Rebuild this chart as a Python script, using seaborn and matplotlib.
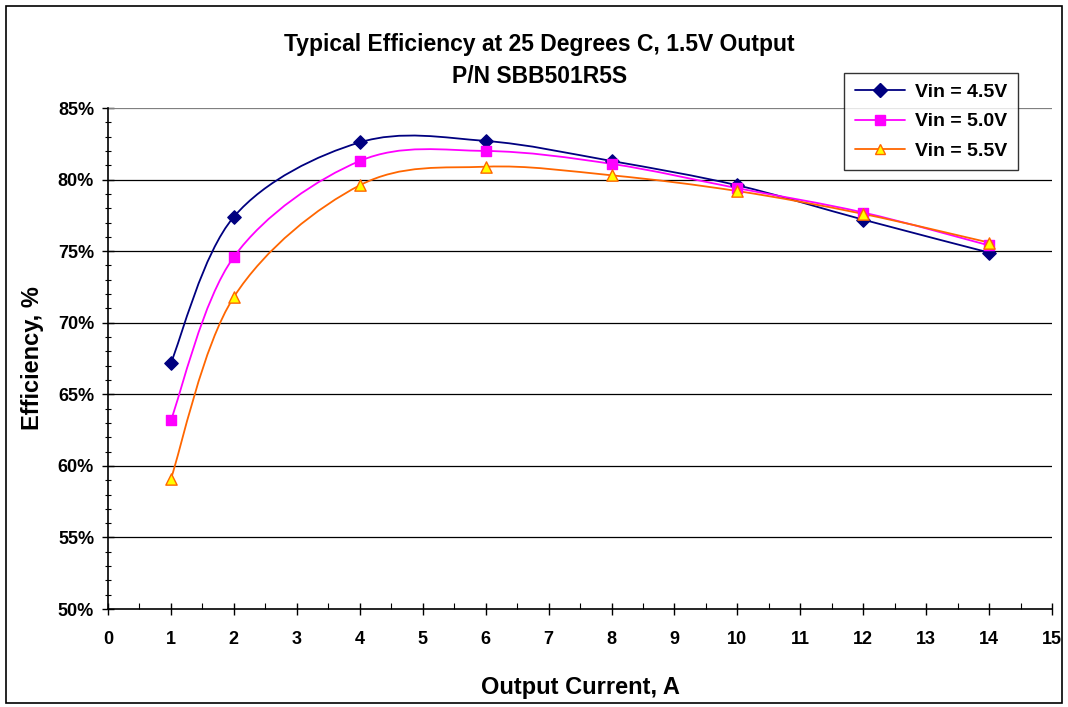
import numpy as np
import pandas as pd
import matplotlib
matplotlib.use('Agg')
import matplotlib.pyplot as plt
import seaborn as sns
from matplotlib.path import Path
from matplotlib.patches import PathPatch, Rectangle
from matplotlib.lines import Line2D
from matplotlib.ticker import MultipleLocator, FuncFormatter

# datos
corriente = [1, 2, 4, 6, 8, 10, 12, 14]
ef_45 = [67.2, 77.4, 82.6, 82.7, 81.3, 79.6, 77.2, 74.9]
ef_50 = [63.2, 74.6, 81.3, 82.0, 81.1, 79.4, 77.7, 75.4]
ef_55 = [59.1, 71.8, 79.6, 80.9, 80.3, 79.2, 77.6, 75.6]
series = ['Vin = 4.5V', 'Vin = 5.0V', 'Vin = 5.5V']

df = pd.DataFrame({
    'Corriente': corriente * 3,
    'Eficiencia': ef_45 + ef_50 + ef_55,
    'Serie': [s for s in series for _ in corriente],
})

estilos = {
    'Vin = 4.5V': dict(line='#000080', face='#000080', edge='#000080', marker='D', size=46),
    'Vin = 5.0V': dict(line='#FF00FF', face='#FF00FF', edge='#FF00FF', marker='s', size=44),
    'Vin = 5.5V': dict(line='#FF6600', face='#FFFF00', edge='#FF6600', marker='^', size=66),
}

sns.set_theme(style='white', rc={'xtick.bottom': True, 'ytick.left': True,
                                  'text.color': 'black', 'axes.labelcolor': 'black',
                                  'xtick.color': 'black', 'ytick.color': 'black'})
plt.rcParams['font.family'] = ['Liberation Sans', 'DejaVu Sans']
plt.rcParams['font.weight'] = 'bold'


def curva_suave(xs, ys):
    # bezier tipo Excel (Catmull-Rom)
    pts = np.column_stack([xs, ys]).astype(float)
    n = len(pts)
    verts = [pts[0]]
    codes = [Path.MOVETO]
    for i in range(n - 1):
        p0 = pts[i - 1] if i > 0 else pts[i]
        p1 = pts[i]
        p2 = pts[i + 1]
        p3 = pts[i + 2] if i + 2 < n else pts[i + 1]
        c1 = p1 + (p2 - p0) / 6.0
        c2 = p2 - (p3 - p1) / 6.0
        verts += [c1, c2, p2]
        codes += [Path.CURVE4] * 3
    return Path(verts, codes)


fig = plt.figure(figsize=(10.68, 7.07), dpi=100)
ax = fig.add_axes([0.1011, 0.1386, 0.884, 0.7086])

for s in series:
    d = df[df['Serie'] == s]
    e = estilos[s]
    ax.add_patch(PathPatch(curva_suave(d['Corriente'], d['Eficiencia']),
                           fill=False, edgecolor=e['line'], lw=1.3, zorder=3))
    sns.scatterplot(data=d, x='Corriente', y='Eficiencia', ax=ax, marker=e['marker'],
                    color=e['face'], edgecolor=e['edge'], linewidth=1.0, s=e['size'],
                    zorder=4, legend=False)

ax.set_xlim(0, 15)
ax.set_ylim(50, 85)
ax.xaxis.set_major_locator(MultipleLocator(1))
ax.xaxis.set_minor_locator(MultipleLocator(0.5))
ax.yaxis.set_major_locator(MultipleLocator(5))
ax.yaxis.set_minor_locator(MultipleLocator(1))
ax.yaxis.set_major_formatter(FuncFormatter(lambda v, p: f'{v:.0f}%'))

for v in range(55, 90, 5):
    ax.axhline(v, color='#000000' if v < 85 else '#808080', lw=0.9, zorder=1)

for sp in ['top', 'right']:
    ax.spines[sp].set_visible(False)
for sp in ['left', 'bottom']:
    ax.spines[sp].set_color('black')
    ax.spines[sp].set_linewidth(1.2)

ax.tick_params(axis='both', which='major', direction='inout', length=8, width=1,
               color='black', labelsize=13, pad=6, bottom=True, left=True)
ax.tick_params(axis='y', which='minor', direction='inout', length=5, width=0.8,
               color='black', left=True)
ax.tick_params(axis='x', which='minor', direction='in', length=4, width=0.8,
               color='black', bottom=True)
ax.tick_params(axis='x', which='major', pad=12)
for lab in ax.get_xticklabels() + ax.get_yticklabels():
    lab.set_fontweight('bold')

ax.set_xlabel('Output Current, A', fontsize=17, fontweight='bold', labelpad=20)
ax.set_ylabel('Efficiency, %', fontsize=17, fontweight='bold', labelpad=10)

fig.text(0.505, 0.914, 'Typical Efficiency at 25 Degrees C, 1.5V Output\nP/N SBB501R5S',
         ha='center', va='center', fontsize=16.5, fontweight='bold', linespacing=1.5)

manejadores = [Line2D([0], [0], color=estilos[s]['line'], lw=1.3, marker=estilos[s]['marker'],
                      markerfacecolor=estilos[s]['face'], markeredgecolor=estilos[s]['edge'],
                      markersize=7) for s in series]
leg = fig.legend(manejadores, series, loc='upper right', bbox_to_anchor=(0.953, 0.897),
                 borderaxespad=0, frameon=True, fancybox=False, shadow=False,
                 handlelength=2.6, borderpad=0.55, labelspacing=0.6, handletextpad=0.5,
                 prop={'weight': 'bold', 'size': 14})
leg.get_frame().set_edgecolor('black')
leg.get_frame().set_linewidth(1.0)

fig.patches.append(Rectangle((0.006, 0.006), 0.988, 0.986, transform=fig.transFigure,
                             fill=False, edgecolor='black', lw=1.2))

fig.savefig('out.png', dpi=100, facecolor='white')
